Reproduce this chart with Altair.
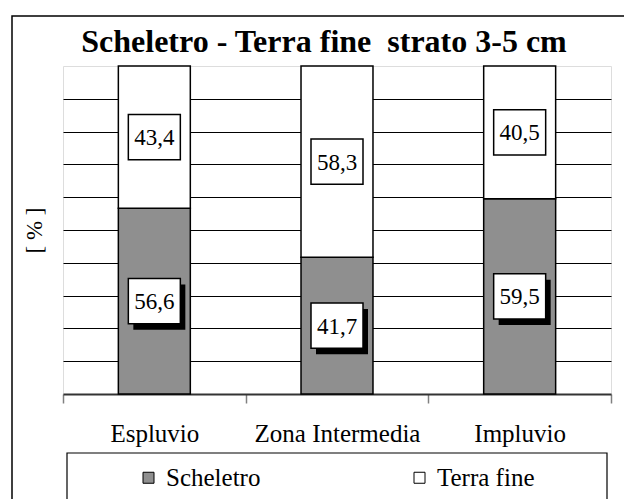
import altair as alt
import pandas as pd

categories = ["Espluvio", "Zona Intermedia", "Impluvio"]
series = ["Scheletro", "Terra fine"]
scheletro = [56.6, 41.7, 59.5]
terra_fine = [43.4, 58.3, 40.5]
grid_values = [10, 20, 30, 40, 50, 60, 70, 80, 90]

rows = []
for c, s, t in zip(categories, scheletro, terra_fine):
    rows.append({"cat": c, "serie": "Scheletro", "v": s, "y0": 0.0, "y1": s,
                 "mid": s / 2, "lab": f"{s:.1f}".replace(".", ",")})
    rows.append({"cat": c, "serie": "Terra fine", "v": t, "y0": s, "y1": s + t,
                 "mid": s + t / 2, "lab": f"{t:.1f}".replace(".", ",")})
df = pd.DataFrame(rows)

FONT = "Liberation Serif"
xenc = alt.X("cat:N", sort=categories,
             scale=alt.Scale(paddingInner=0, paddingOuter=0),
             axis=alt.Axis(title=None, labelAngle=0, labelFont=FONT, labelFontSize=25,
                           labelColor="black", labelPadding=18, domainColor="#333333",
                           domainWidth=2, tickColor="#808080", tickWidth=1.5, tickSize=9,
                           tickBand="extent", grid=False))

bars = alt.Chart(df).mark_bar(width=alt.RelativeBandSize(0.394), stroke="black",
                              strokeWidth=1.5).encode(
    x=xenc,
    y=alt.Y("y0:Q", scale=alt.Scale(domain=[0, 100], nice=False),
            axis=alt.Axis(title="[ % ]", values=grid_values, labels=False, ticks=False,
                          domain=False, grid=True, gridColor="black", gridWidth=1,
                          titleFont=FONT, titleFontSize=23, titleFontWeight="normal",
                          titleColor="black", titleX=-29, titleY=164, titleAngle=-90,
                          titleAlign="center", titleBaseline="middle")),
    y2="y1:Q",
    color=alt.Color("serie:N", scale=alt.Scale(domain=series, range=["#8f8f8f", "white"]),
                    legend=alt.Legend(title=None, orient="none", legendX=73, legendY=399,
                                      direction="horizontal", symbolType="square",
                                      symbolSize=121, symbolStrokeColor="black",
                                      symbolStrokeWidth=1, labelFont=FONT, labelFontSize=25,
                                      labelColor="black", labelOffset=5, columnPadding=146,
                                      padding=0)),
)

box_shape = "M-1,-0.87L1,-0.87L1,0.87L-1,0.87Z"
shadow = alt.Chart(df[df.serie == "Scheletro"]).mark_point(
    shape=box_shape, filled=True, fill="black", opacity=1, size=2704,
    xOffset=5, yOffset=6).encode(x=alt.X("cat:N", sort=categories), y=alt.Y("mid:Q"))
boxes = alt.Chart(df).mark_point(
    shape=box_shape, filled=True, fill="white", stroke="black", strokeWidth=1.5,
    opacity=1, size=2704).encode(x=alt.X("cat:N", sort=categories), y=alt.Y("mid:Q"))
texts = alt.Chart(df).mark_text(font=FONT, fontSize=23, color="black", align="center",
                                baseline="middle", dy=1).encode(
    x=alt.X("cat:N", sort=categories), y=alt.Y("mid:Q"), text="lab:N")

frame_df = pd.DataFrame({"k": [0]})
outer = alt.Chart(frame_df).mark_rect(fill="white", fillOpacity=0, stroke="black",
                                      strokeWidth=1.5).encode(
    x=alt.value(-51), x2=alt.value(640), y=alt.value(-50), y2=alt.value(520))
legend_box = alt.Chart(frame_df).mark_rect(fill="white", fillOpacity=0, stroke="black",
                                           strokeWidth=1.2).encode(
    x=alt.value(4), x2=alt.value(544), y=alt.value(387), y2=alt.value(520))

chart = alt.layer(outer, legend_box, bars, shadow, boxes, texts).properties(
    width=548, height=328,
    autosize=alt.AutoSizeParams(type="none"),
    padding={"left": 63, "top": 66, "right": 13, "bottom": 105},
    title=alt.TitleParams("Scheletro - Terra fine\u00a0 strato 3-5 cm", font=FONT,
                          fontSize=32, fontWeight="bold", color="black", anchor="middle",
                          frame="group", dx=-13, dy=85, offset=9, baseline="bottom"),
).configure_view(stroke="#808080", strokeWidth=1.5).configure(background="white")

chart.save("out.html", embed_options={"renderer": "svg", "actions": False})
